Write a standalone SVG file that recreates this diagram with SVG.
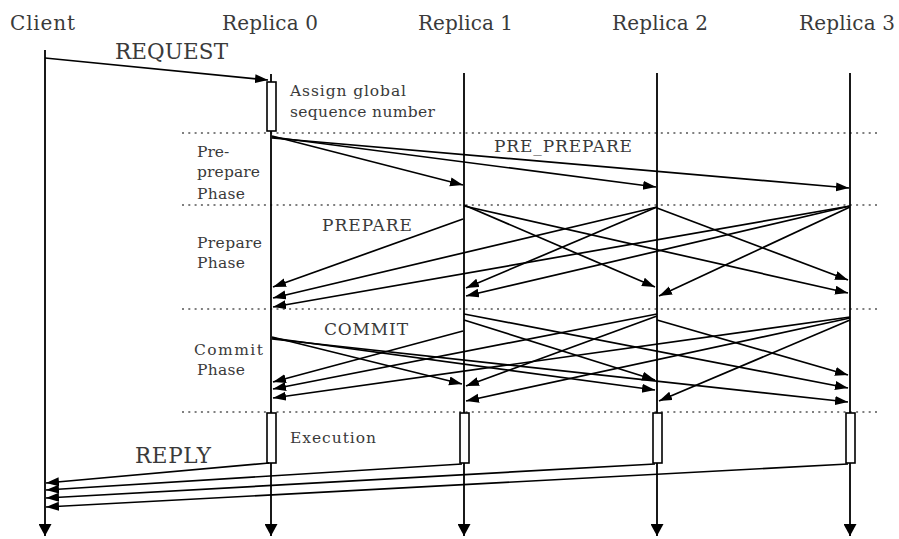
<svg xmlns="http://www.w3.org/2000/svg" width="899" height="539" viewBox="0 0 899 539">
<style>
text{font-family:"DejaVu Serif","Liberation Serif",serif;fill:#3a3a3a}
.h{font-size:20px}
.m{font-size:21.5px}
.s{font-size:15.5px}
.c{font-size:17px}
.life{stroke:#000;stroke-width:1.8;fill:none}
.box{fill:#fff;stroke:#000;stroke-width:1.6}
.dot{stroke:#555;stroke-width:1.6;stroke-dasharray:2 4.3;fill:none}
.msg line{stroke:#000;stroke-width:1.7;marker-end:url(#ah)}
</style>
<defs>
<marker id="ah" markerUnits="userSpaceOnUse" markerWidth="14" markerHeight="10" refX="13" refY="4.5" orient="auto">
<path d="M0,0 L13,4.5 L0,9 z" fill="#000"/>
</marker>
<marker id="la" markerUnits="userSpaceOnUse" markerWidth="14" markerHeight="14" refX="6.5" refY="12" orient="0">
<path d="M0,0 L13,0 L6.5,12 z" fill="#000"/>
</marker>
</defs>
<rect width="899" height="539" fill="#fff"/>

<g id="phases">
<line class="dot" x1="182" y1="133" x2="880" y2="133"/>
<line class="dot" x1="182" y1="205" x2="880" y2="205"/>
<line class="dot" x1="182" y1="309" x2="880" y2="309"/>
<line class="dot" x1="182" y1="412" x2="880" y2="412"/>
<text class="s" x="197" y="157">Pre-</text>
<text class="s" x="197" y="177" textLength="63">prepare</text>
<text class="s" x="197" y="199" textLength="48">Phase</text>
<text class="s" x="197" y="248" textLength="65">Prepare</text>
<text class="s" x="197" y="268" textLength="48">Phase</text>
<text class="s" x="194" y="355" textLength="69">Commit</text>
<text class="s" x="197" y="375" textLength="48">Phase</text>
</g>

<g id="client">
<text class="h" x="10" y="30" textLength="65">Client</text>
<line class="life" x1="45" y1="50" x2="45" y2="536" marker-end="url(#la)"/>
</g>
<g id="replica0">
<text class="h" x="222" y="30" textLength="96">Replica 0</text>
<line class="life" x1="271" y1="74" x2="271" y2="536" marker-end="url(#la)"/>
<rect class="box" x="267" y="82" width="9" height="49"/>
<text class="s" x="290" y="96" textLength="116">Assign global</text>
<text class="s" x="290" y="117" textLength="145">sequence number</text>
<rect class="box" x="267" y="413" width="9" height="50"/>
<text class="s" x="290" y="443" textLength="86">Execution</text>
</g>
<g id="replica1">
<text class="h" x="418" y="30" textLength="95">Replica 1</text>
<line class="life" x1="464" y1="73" x2="464" y2="536" marker-end="url(#la)"/>
<rect class="box" x="460" y="413" width="9" height="50"/>
</g>
<g id="replica2">
<text class="h" x="612" y="30" textLength="96">Replica 2</text>
<line class="life" x1="657" y1="73" x2="657" y2="536" marker-end="url(#la)"/>
<rect class="box" x="653" y="413" width="9" height="50"/>
</g>
<g id="replica3">
<text class="h" x="799" y="30" textLength="96">Replica 3</text>
<line class="life" x1="850" y1="73" x2="850" y2="536" marker-end="url(#la)"/>
<rect class="box" x="846" y="413" width="9" height="50"/>
</g>

<g id="connectors" class="msg">
<line x1="45" y1="58" x2="268" y2="80"/>
<line x1="272" y1="136" x2="463" y2="185"/>
<line x1="272" y1="137" x2="656" y2="187"/>
<line x1="272" y1="138" x2="849" y2="188"/>
<line x1="463" y1="219" x2="273" y2="287"/>
<line x1="464" y1="205" x2="655" y2="287"/>
<line x1="464" y1="206" x2="848" y2="293"/>
<line x1="657" y1="207" x2="466" y2="288"/>
<line x1="657" y1="207" x2="273" y2="298"/>
<line x1="657" y1="208" x2="848" y2="280"/>
<line x1="850" y1="206" x2="273" y2="307"/>
<line x1="850" y1="206" x2="466" y2="296"/>
<line x1="850" y1="207" x2="659" y2="296"/>
<line x1="272" y1="337" x2="462" y2="384"/>
<line x1="272" y1="338" x2="655" y2="390"/>
<line x1="272" y1="339" x2="848" y2="402"/>
<line x1="463" y1="331" x2="273" y2="382"/>
<line x1="464" y1="314" x2="848" y2="388"/>
<line x1="464" y1="320" x2="655" y2="380"/>
<line x1="657" y1="314" x2="273" y2="389"/>
<line x1="657" y1="316" x2="466" y2="386"/>
<line x1="657" y1="320" x2="848" y2="375"/>
<line x1="850" y1="317" x2="273" y2="398"/>
<line x1="850" y1="318" x2="466" y2="401"/>
<line x1="850" y1="320" x2="659" y2="401"/>
<line x1="269" y1="463" x2="46" y2="483"/>
<line x1="462" y1="464" x2="46" y2="490"/>
<line x1="655" y1="464" x2="46" y2="498"/>
<line x1="848" y1="464" x2="46" y2="507"/>
</g>
<g id="labels">
<text class="m" x="115" y="59" textLength="113">REQUEST</text>
<text class="c" x="494" y="152" textLength="138">PRE_PREPARE</text>
<text class="c" x="322" y="231" textLength="90">PREPARE</text>
<text class="c" x="324" y="335" textLength="84">COMMIT</text>
<text class="m" x="135" y="463" textLength="76">REPLY</text>
</g>
</svg>
